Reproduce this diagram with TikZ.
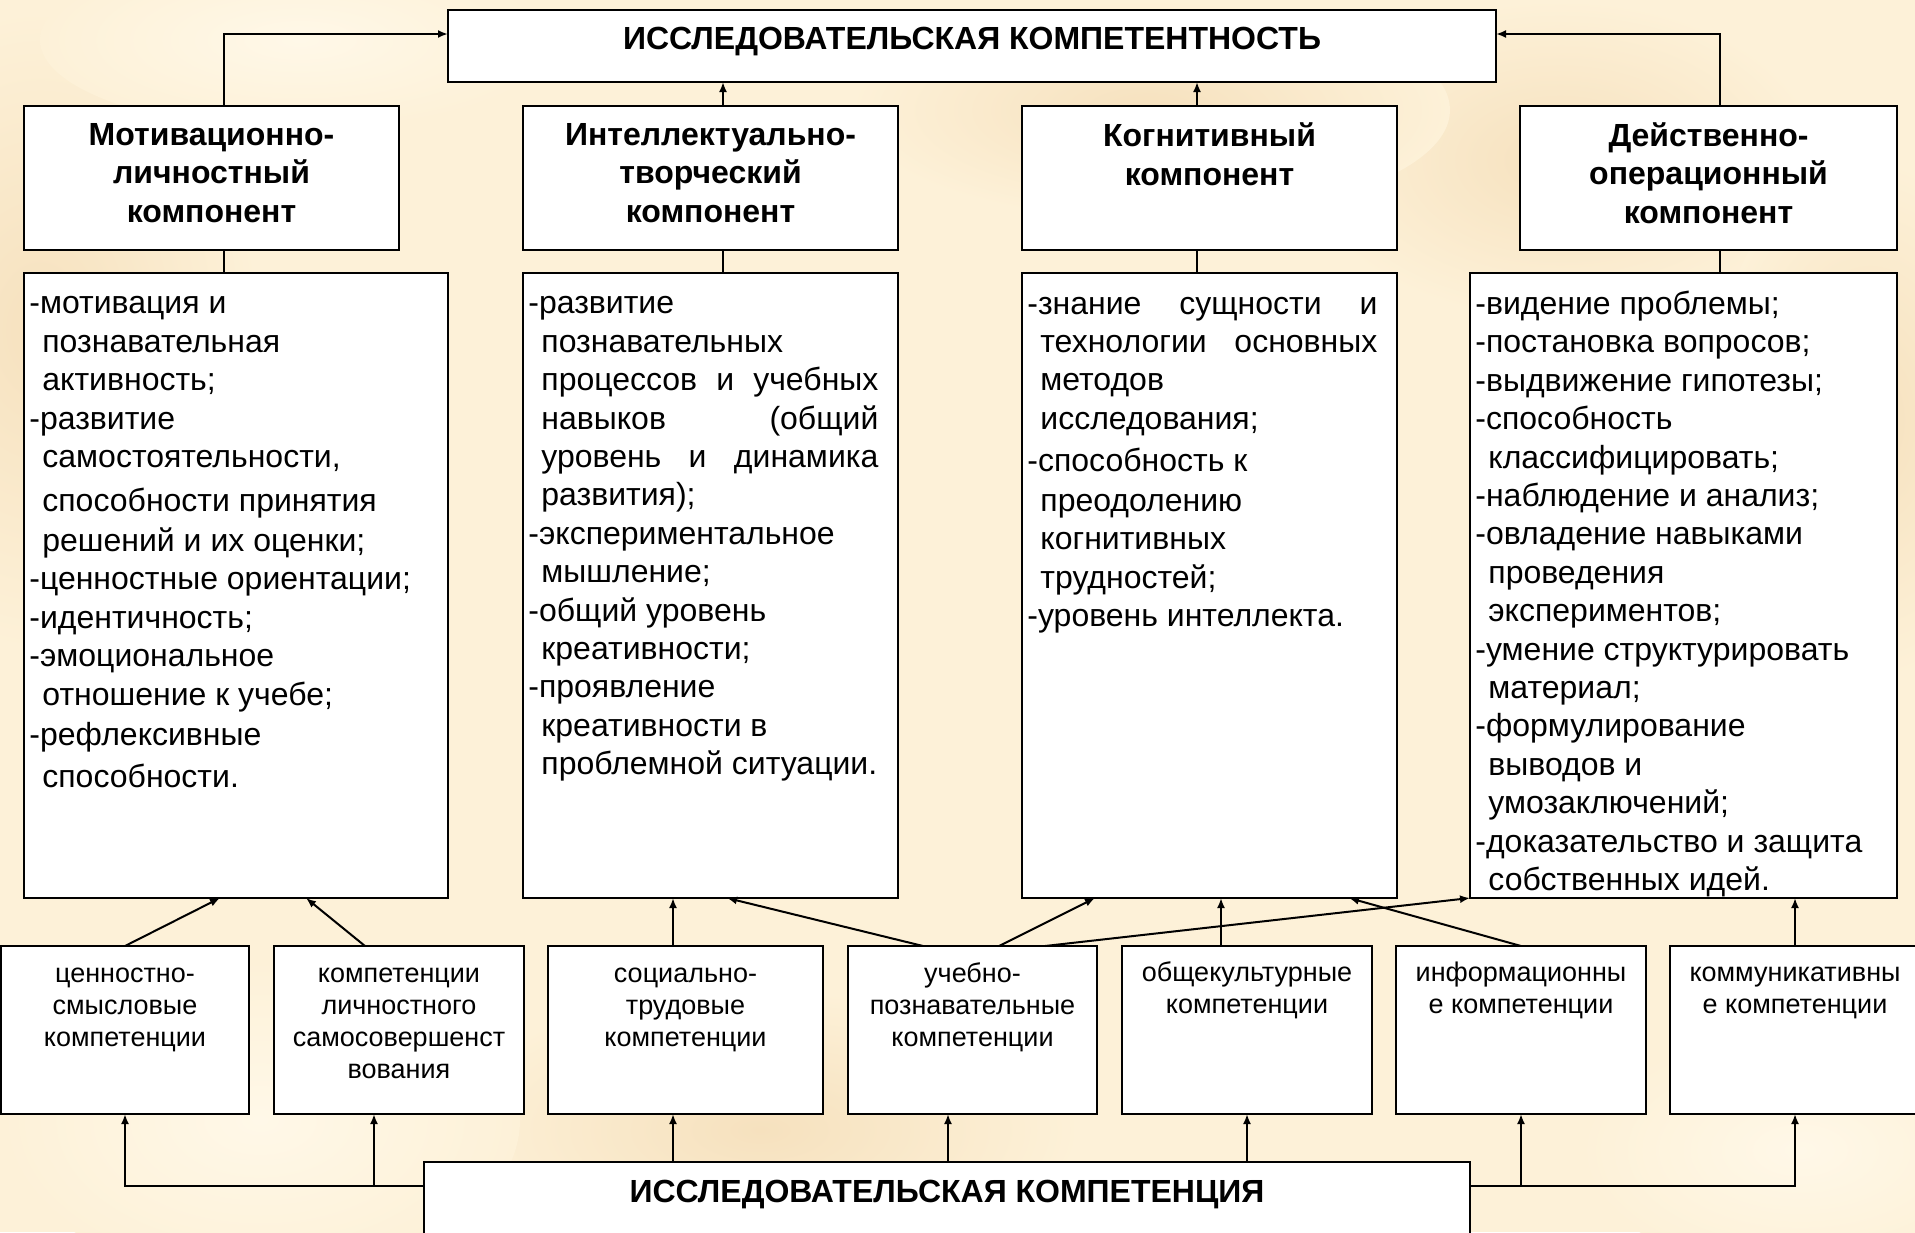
\documentclass[tikz,border=0pt]{standalone}
\usepackage{fontspec}
\setmainfont{Liberation Sans}
\usetikzlibrary{arrows.meta,calc}
\definecolor{bgbase}{RGB}{253,241,216}
\definecolor{bgdark}{RGB}{246,225,190}
\definecolor{bglight}{RGB}{255,248,232}
\newcommand\myind{\hspace*{6.5pt}}
\begin{document}
\begin{tikzpicture}[x=0.5pt,y=-0.5pt,
 box/.style={draw=black, line width=1.2pt, fill=white, rectangle, inner sep=0pt, outer sep=0pt},
 arr/.style={-{Latex[length=5pt,width=4pt]}, line width=1pt},
 ln/.style={line width=1pt},
 ttl/.style={font=\fontsize{16}{19.25}\selectfont\bfseries, inner sep=0pt},
 hd/.style={font=\fontsize{16}{19.25}\selectfont\bfseries, align=center, inner sep=0pt},
 det/.style={font=\fontsize{16}{19.2}\selectfont, align=left, inner sep=0pt, anchor=west},
 sm/.style={font=\fontsize{13.5}{16}\selectfont, align=center, inner sep=0pt}]
\useasboundingbox (0,0) rectangle (1915,1232);
\clip (0,0) rectangle (1915,1232);
% background
\fill[bgbase] (0,0) rectangle (1915,1232);
\shade[inner color=bgdark, outer color=bgbase] (40,330) ellipse (220 and 320);
\shade[inner color=bgdark, outer color=bgbase] (1560,160) ellipse (260 and 160);
\shade[inner color=bgdark, outer color=bgbase] (1870,420) ellipse (160 and 260);
\shade[inner color=bgdark, outer color=bgbase] (760,1130) ellipse (320 and 140);
\shade[inner color=bgdark, outer color=bgbase] (1150,110) ellipse (300 and 110);
\shade[inner color=bglight, outer color=bgbase] (260,1120) ellipse (260 and 160);
\shade[inner color=bglight, outer color=bgbase] (1800,1150) ellipse (220 and 120);
\shade[inner color=bglight, outer color=bgbase] (300,40) ellipse (260 and 90);

% top box
\node[box, minimum width=524pt, minimum height=36pt] (T) at (972,46) {};
\node[ttl] (tT) at (972,42) {ИССЛЕДОВАТЕЛЬСКАЯ КОМПЕТЕНТНОСТЬ};

% component boxes
\node[box, minimum width=187.5pt, minimum height=72pt] (C1) at (211.5,178) {};
\node[box, minimum width=187.5pt, minimum height=72pt] (C2) at (710.5,178) {};
\node[box, minimum width=187.5pt, minimum height=72pt] (C3) at (1209.5,178) {};
\node[box, minimum width=188.5pt, minimum height=72pt] (C4) at (1708.5,178) {};
\node[hd] (tC1) at (211.5,173) {Мотивационно-\\личностный\\компонент};
\node[hd] (tC2) at (710.5,173) {Интеллектуально-\\творческий\\компонент};
\node[hd] (tC3) at (1209.5,154) {Когнитивный\\компонент};
\node[hd] (tC4) at (1708.5,173) {Действенно-\\операционный\\компонент};

% detail boxes
\node[box, minimum width=212pt, minimum height=312.5pt] (D1) at (236,585.5) {};
\node[box, minimum width=187.5pt, minimum height=312.5pt] (D2) at (710.5,585.5) {};
\node[box, minimum width=187.5pt, minimum height=312.5pt] (D3) at (1209.5,585.5) {};
\node[box, minimum width=213.5pt, minimum height=312.5pt] (D4) at (1683.5,585.5) {};

\node[det] (tD1) at (29,542) {-мотивация и\\
\myind познавательная\\
\myind активность;\\
-развитие\\
\myind самостоятельности,\\[2.8pt]
\myind способности принятия\\[0.8pt]
\myind решений и их оценки;\\
-ценностные ориентации;\\
-идентичность;\\
-эмоциональное\\
\myind отношение к учебе;\\[0.8pt]
-рефлексивные\\[1.8pt]
\myind способности.};

\node[det] (tD2) at (528,539) {-развитие\\
\myind познавательных\\
\myind\makebox[168.5pt][s]{процессов и учебных}\\
\myind\makebox[168.5pt][s]{навыков (общий}\\
\myind\makebox[168.5pt][s]{уровень и динамика}\\
\myind развития);\\
-экспериментальное\\
\myind мышление;\\
-общий уровень\\
\myind креативности;\\
-проявление\\
\myind креативности в\\
\myind проблемной ситуации.};

\node[det] (tD3) at (1027,465) {\makebox[175pt][s]{-знание сущности и}\\
\myind\makebox[168.5pt][s]{технологии основных}\\
\myind методов\\
\myind исследования;\\[1.8pt]
-способность к\\[0.8pt]
\myind преодолению\\
\myind когнитивных\\
\myind трудностей;\\
-уровень интеллекта.};

\node[det] (tD4) at (1475,594) {-видение проблемы;\\
-постановка вопросов;\\
-выдвижение гипотезы;\\
-способность\\
\myind классифицировать;\\
-наблюдение и анализ;\\
-овладение навыками\\
\myind проведения\\
\myind экспериментов;\\
-умение структурировать\\
\myind материал;\\
-формулирование\\
\myind выводов и\\
\myind умозаключений;\\
-доказательство и защита\\
\myind собственных идей.};

% bottom competence boxes
\node[box, minimum width=124pt, minimum height=84pt] (B1) at (125,1030) {};
\node[box, minimum width=125pt, minimum height=84pt] (B2) at (399,1030) {};
\node[box, minimum width=137.5pt, minimum height=84pt] (B3) at (685.5,1030) {};
\node[box, minimum width=124.5pt, minimum height=84pt] (B4) at (972.5,1030) {};
\node[box, minimum width=125pt, minimum height=84pt] (B5) at (1247,1030) {};
\node[box, minimum width=125pt, minimum height=84pt] (B6) at (1521,1030) {};
\node[box, minimum width=130pt, minimum height=84pt] (B7) at (1800,1030) {};
\node[sm] (tB1) at (125,1010) {ценностно-\\смысловые\\компетенции};
\node[sm] (tB2) at (399,1023.5) {компетенции\\личностного\\самосовершенст\\вования};
\node[sm] (tB3) at (685.5,1010) {социально-\\трудовые\\компетенции};
\node[sm] (tB4) at (972.5,1007) {учебно-\\познавательные\\компетенции};
\node[sm] (tB5) at (1247,990) {общекультурные\\компетенции};
\node[sm] (tB6) at (1521,990) {информационны\\е компетенции};
\node[sm] (tB7) at (1795,993) {коммуникативны\\е компетенции};

% main bottom box
\node[box, minimum width=523pt, minimum height=49pt] (M) at (947,1211) {};
\node[ttl] (tM) at (947,1194) {ИССЛЕДОВАТЕЛЬСКАЯ КОМПЕТЕНЦИЯ};

% helper coordinates (x positions)
\coordinate (k1) at (224,0);
\coordinate (k2) at (723,0);
\coordinate (k3) at (1197,0);
\coordinate (k4) at (1720,0);
\coordinate (a2) at (374,0);
\coordinate (a3) at (673,0);
\coordinate (a4) at (948,0);
\coordinate (a7) at (1795,0);
\coordinate (u1) at (220,0);
\coordinate (s2) at (365,0);
\coordinate (u2) at (306,0);
\coordinate (s4a) at (923,0);
\coordinate (u4a) at (727,0);
\coordinate (s4b) at (999,0);
\coordinate (u4b) at (1095,0);
\coordinate (s4c) at (1045,0);
\coordinate (u5) at (1221,0);
\coordinate (u6) at (1349,0);
\coordinate (busL) at ([yshift=-12pt]M.north west);
\coordinate (busR) at ([yshift=-12pt]M.north east);

% top connectors
\draw[arr] (C1.north -| k1) |- ([yshift=6pt]T.west);
\draw[arr] (C4.north -| k4) |- ([yshift=6pt]T.east);
\draw[arr] (C2.north -| k2) -- (T.south -| k2);
\draw[arr] (C3.north -| k3) -- (T.south -| k3);
\draw[ln] (C1.south -| k1) -- (D1.north -| k1);
\draw[ln] (C2.south -| k2) -- (D2.north -| k2);
\draw[ln] (C3.south -| k3) -- (D3.north -| k3);
\draw[ln] (C4.south -| k4) -- (D4.north -| k4);

% competences to detail boxes
\draw[arr] (B1.north) -- (D1.south -| u1);
\draw[arr] (B2.north -| s2) -- (D1.south -| u2);
\draw[arr] (B3.north -| a3) -- (D2.south -| a3);
\draw[arr] (B4.north -| s4a) -- (D2.south -| u4a);
\draw[arr] (B4.north -| s4b) -- (D3.south -| u4b);
\draw[arr] (B4.north -| s4c) -- (D4.south west);
\draw[arr] (B5.north -| u5) -- (D3.south -| u5);
\draw[arr] (B6.north) -- (D3.south -| u6);
\draw[arr] (B7.north -| a7) -- (D4.south -| a7);

% main box to competences
\draw[arr] (busL) -| (B1.south);
\draw[arr] (busL -| a2) -- (B2.south -| a2);
\draw[arr] (M.north -| a3) -- (B3.south -| a3);
\draw[arr] (M.north -| a4) -- (B4.south -| a4);
\draw[arr] (M.north -| B5.south) -- (B5.south);
\draw[arr] (busR) -| (B7.south -| a7);
\draw[arr] (busR -| B6.south) -- (B6.south);
\end{tikzpicture}
\end{document}
